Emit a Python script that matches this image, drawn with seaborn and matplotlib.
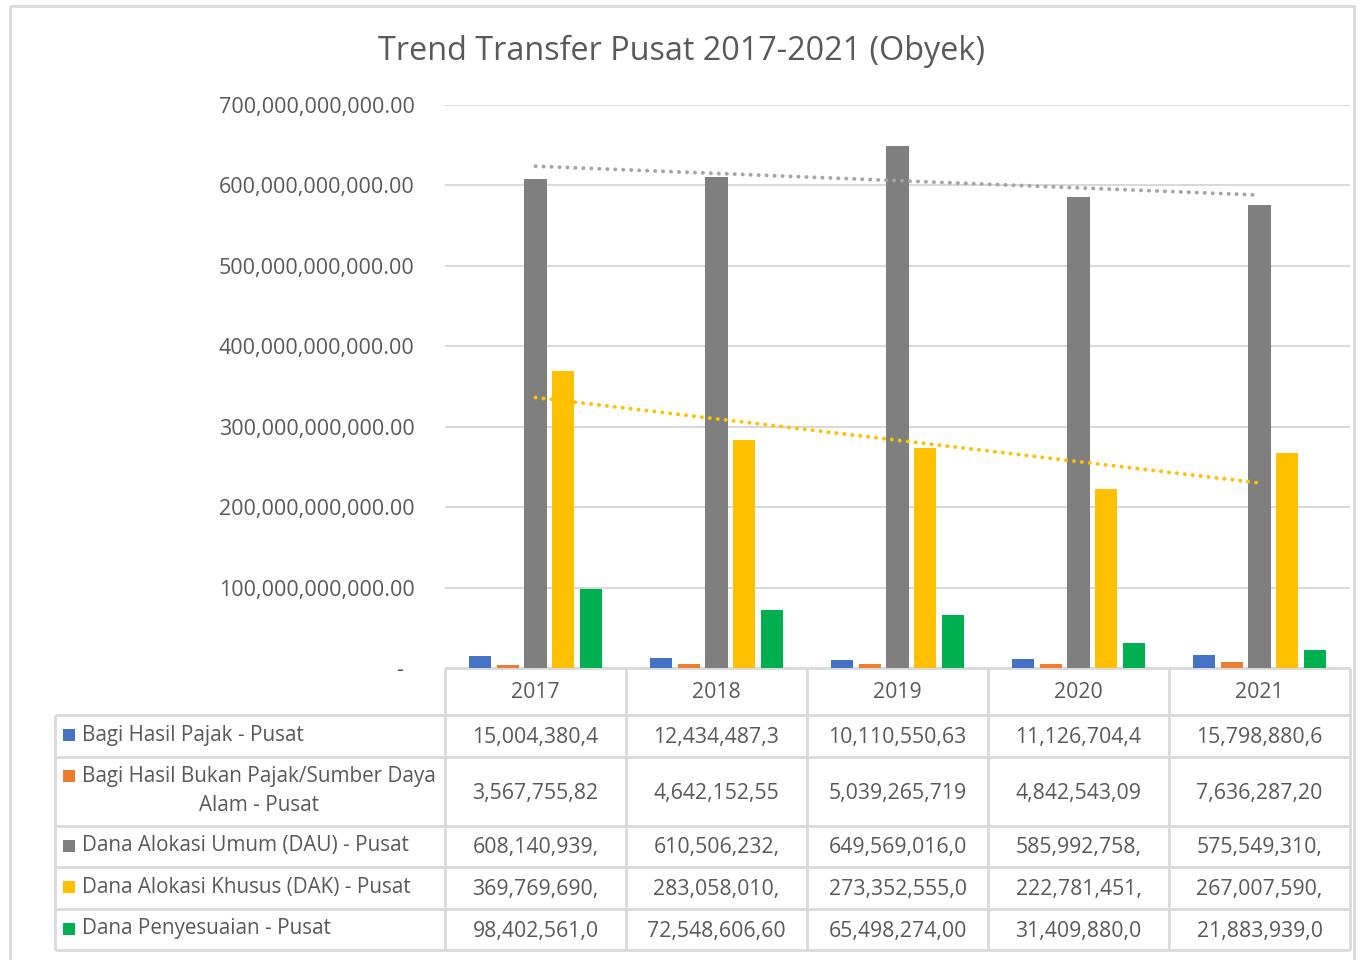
"""
Trend Transfer Pusat 2017-2021 (Obyek) - clustered bars with data table
"""

import numpy as np
import pandas as pd
import matplotlib
matplotlib.use("Agg")
import matplotlib.pyplot as plt
from matplotlib.patches import Rectangle
import seaborn as sns

# data
years = ["2017", "2018", "2019", "2020", "2021"]
series = [
    "Bagi Hasil Pajak - Pusat",
    "Bagi Hasil Bukan Pajak/Sumber Daya Alam - Pusat",
    "Dana Alokasi Umum (DAU) - Pusat",
    "Dana Alokasi Khusus (DAK) - Pusat",
    "Dana Penyesuaian - Pusat",
]
bhp = [15_004_380_400, 12_434_487_300, 10_110_550_630, 11_126_704_400, 15_798_880_600]
bhbp = [3_567_755_820, 4_642_152_550, 5_039_265_719, 4_842_543_090, 7_636_287_200]
dau = [608_140_939_000, 610_506_232_000, 649_569_016_000, 585_992_758_000, 575_549_310_000]
dak = [369_769_690_000, 283_058_010_000, 273_352_555_000, 222_781_451_000, 267_007_590_000]
dp = [98_402_561_000, 72_548_606_600, 65_498_274_000, 31_409_880_000, 21_883_939_000]

# text shown in the data table (Excel clips the cells)
table_text = [
    ["15,004,380,4", "12,434,487,3", "10,110,550,63", "11,126,704,4", "15,798,880,6"],
    ["3,567,755,82", "4,642,152,55", "5,039,265,719", "4,842,543,09", "7,636,287,20"],
    ["608,140,939,", "610,506,232,", "649,569,016,0", "585,992,758,", "575,549,310,"],
    ["369,769,690,", "283,058,010,", "273,352,555,0", "222,781,451,", "267,007,590,"],
    ["98,402,561,0", "72,548,606,60", "65,498,274,00", "31,409,880,0", "21,883,939,0"],
]
row_labels = [
    "Bagi Hasil Pajak - Pusat",
    "Bagi Hasil Bukan Pajak/Sumber Daya\nAlam - Pusat",
    "Dana Alokasi Umum (DAU) - Pusat",
    "Dana Alokasi Khusus (DAK) - Pusat",
    "Dana Penyesuaian - Pusat",
]
colors = ["#4472C4", "#ED7D31", "#7F7F7F", "#FFC000", "#00B050"]
y_ticks = [0, 100e9, 200e9, 300e9, 400e9, 500e9, 600e9, 700e9]

sns.set_theme(style="white")
plt.rcParams["font.family"] = ["Open Sans", "DejaVu Sans"]
TXT = "#595959"
GRID = "#D9D9D9"

df = pd.DataFrame({
    "year": np.repeat(years, len(series)),
    "series": series * len(years),
    "value": np.array([bhp, bhbp, dau, dak, dp]).T.ravel(),
})

W, H = 1360, 960
fig = plt.figure(figsize=(W / 100, H / 100), dpi=100)

# overlay in pixel coordinates for border, title and table
ov = fig.add_axes([0, 0, 1, 1], zorder=0)
ov.set_xlim(0, W)
ov.set_ylim(H, 0)
ov.axis("off")
ov.add_patch(Rectangle((10, 6), 1344, 970, fill=False, ec=GRID, lw=2))

# plot area
x0, x1, y_top, y_bot = 445, 1350, 105, 668
ax = fig.add_axes([x0 / W, 1 - y_bot / H, (x1 - x0) / W, (y_bot - y_top) / H], zorder=1)
ax.patch.set_alpha(0)

sns.barplot(data=df, x="year", y="value", hue="series", hue_order=series,
            palette=colors, saturation=1, width=0.767, gap=0.2,
            legend=False, ax=ax, edgecolor="none")

# linear trend lines (DAU and DAK)
xs = np.arange(len(years))
for vals, col in [(dau, "#A5A5A5"), (dak, "#FFC000")]:
    k, b = np.polyfit(xs, vals, 1)
    ax.plot(xs, k * xs + b, color=col, lw=2.8, linestyle=(0, (0.05, 2.0)),
            dash_capstyle="round", zorder=5)

ax.set_xlim(-0.5, len(years) - 0.5)
ax.set_ylim(0, 700e9)
ax.set_yticks(y_ticks)
ax.set_yticklabels(["-" if v == 0 else f"{v:,.2f}" for v in y_ticks])
ax.yaxis.grid(True, color=GRID, lw=1.5, zorder=0)
ax.set_axisbelow(True)
ax.set_xticks([])
ax.set_xlabel("")
ax.set_ylabel("")
for s in ax.spines.values():
    s.set_visible(False)
ax.tick_params(axis="y", length=0, pad=22, labelsize=15.5, labelcolor=TXT)
labels = ax.get_yticklabels()
labels[0].set_x(-0.012)

# title
ov.text(681, 51, "Trend Transfer Pusat 2017-2021 (Obyek)", ha="center", va="center",
        fontsize=23.3, color=TXT)

# data table
cols = np.linspace(x0, x1, len(years) + 1)
rows = [668, 715, 757, 826, 867, 909, 950]
tl = 55
kw = dict(color=GRID, lw=2, solid_capstyle="butt")
ov.plot([x0, x1], [rows[0], rows[0]], **kw)
for yy in rows[1:]:
    ov.plot([tl, x1], [yy, yy], **kw)
for xx in cols:
    ov.plot([xx, xx], [rows[0], rows[-1]], **kw)
ov.plot([tl, tl], [rows[1], rows[-1]], **kw)

for j, yr in enumerate(years):
    ov.text((cols[j] + cols[j + 1]) / 2, 693, yr, ha="center", va="center",
            fontsize=15.3, color=TXT)

for i in range(len(series)):
    yc = (rows[i + 1] + rows[i + 2]) / 2
    ty = yc - 1
    ov.add_patch(Rectangle((63, ty - 6), 12, 12, color=colors[i], lw=0))
    if "\n" in row_labels[i]:
        l1, l2 = row_labels[i].split("\n")
        ov.text(82, yc - 15, l1, ha="left", va="center", fontsize=14.9, color=TXT)
        ov.text(259, yc + 14, l2, ha="center", va="center", fontsize=14.9, color=TXT)
        ov.patches[-1].set_y(yc - 16 - 6)
    else:
        ov.text(82, ty, row_labels[i], ha="left", va="center", fontsize=14.9, color=TXT)
    for j in range(len(years)):
        ov.text((cols[j] + cols[j + 1]) / 2, yc + 1.5, table_text[i][j], ha="center",
                va="center", fontsize=15.3, color=TXT)

fig.savefig("out.png", dpi=100)
